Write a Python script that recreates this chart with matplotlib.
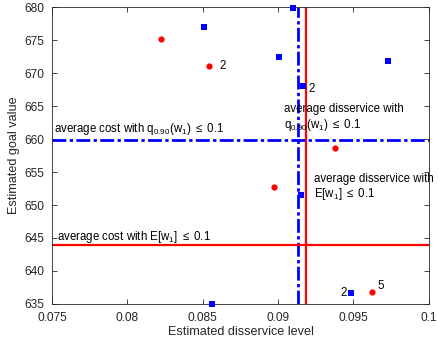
import matplotlib
matplotlib.use("Agg")
import matplotlib.pyplot as plt

plt.rcParams['font.family'] = ['Liberation Sans', 'DejaVu Sans']
plt.rcParams['mathtext.fontset'] = 'custom'
plt.rcParams['mathtext.rm'] = 'Liberation Sans'
plt.rcParams['mathtext.it'] = 'Liberation Sans'
plt.rcParams['mathtext.default'] = 'regular'

# Data
red_x = [0.0822, 0.0854, 0.09375, 0.08974, 0.09625]
red_y = [675.2, 671.15, 658.7, 652.8, 636.8]
blue_x = [0.0851, 0.0910, 0.09005, 0.09726, 0.09167, 0.0915, 0.09481, 0.08562]
blue_y = [677.0, 679.8, 672.5, 671.8, 668.1, 651.5, 636.7, 635.0]

vline_q = 0.09129   # average disservice with q_0.90 constraint
vline_e = 0.09182   # average disservice with E constraint
hline_q = 659.8     # average cost with q_0.90 constraint
hline_e = 644.0     # average cost with E constraint

xticks = [0.075, 0.08, 0.085, 0.09, 0.095, 0.1]
xticklabels = ['0.075', '0.08', '0.085', '0.09', '0.095', '0.1']
yticks = [635, 640, 645, 650, 655, 660, 665, 670, 675, 680]

point_labels = [
    (0.0861, 671.1, '2', 'left'),
    (0.0920, 667.6, '2', 'left'),
    (0.09455, 636.6, '2', 'right'),
    (0.09660, 637.7, '5', 'left'),
]

fig = plt.figure(figsize=(4.38, 3.40), dpi=100)
ax = fig.add_axes([0.119, 0.106, 0.860, 0.873])

dashdot = (0, (5, 1.2, 1.2, 1.2))
ax.axvline(vline_q, color='#0000ff', lw=2, ls=dashdot, zorder=2)
ax.axvline(vline_e, color='#ff0000', lw=1.6, zorder=2)
ax.axhline(hline_q, color='#0000ff', lw=2, ls=dashdot, zorder=2)
ax.axhline(hline_e, color='#ff0000', lw=1.6, zorder=2)

ax.plot(red_x, red_y, 'o', color='#ff0000', ms=4.5, mew=0, zorder=3)
ax.plot(blue_x, blue_y, 's', color='#0000ff', ms=3.8, mew=0, zorder=3, clip_on=False)

fs = 8.3
for x, y, t, ha in point_labels:
    ax.text(x, y, t, ha=ha, va='center', fontsize=fs, color='black')

ax.text(0.07513, 661.6, 'average cost with q$_{0.90}$(w$_1$) $\\leq$ 0.1',
        ha='left', va='center', fontsize=fs, color='black')
ax.text(0.0904, 663.2, 'average disservice with\nq$_{0.90}$(w$_1$) $\\leq$ 0.1',
        ha='left', va='center', fontsize=fs, color='black', linespacing=1.1)
ax.text(0.0924, 652.6, 'average disservice with\nE[w$_1$] $\\leq$ 0.1',
        ha='left', va='center', fontsize=fs, color='black', linespacing=1.1)
ax.text(0.07535, 645.2, 'average cost with E[w$_1$] $\\leq$ 0.1',
        ha='left', va='center', fontsize=fs, color='black')

ax.set_xlim(0.075, 0.1)
ax.set_ylim(635, 680)
ax.set_xticks(xticks)
ax.set_xticklabels(xticklabels)
ax.set_yticks(yticks)
ax.tick_params(direction='in', top=True, right=True, length=3.5, width=0.6,
               colors='#262626', labelsize=8.6)
ax.tick_params(axis='x', pad=5.5)
ax.tick_params(axis='y', pad=5.5)
for s in ax.spines.values():
    s.set_color('#262626')
    s.set_linewidth(0.6)
ax.set_xlabel('Estimated disservice level', fontsize=9.1, color='#262626', labelpad=2)
ax.set_ylabel('Estimated goal value', fontsize=9.1, color='#262626', labelpad=3)

fig.savefig('out.png', dpi=100)
